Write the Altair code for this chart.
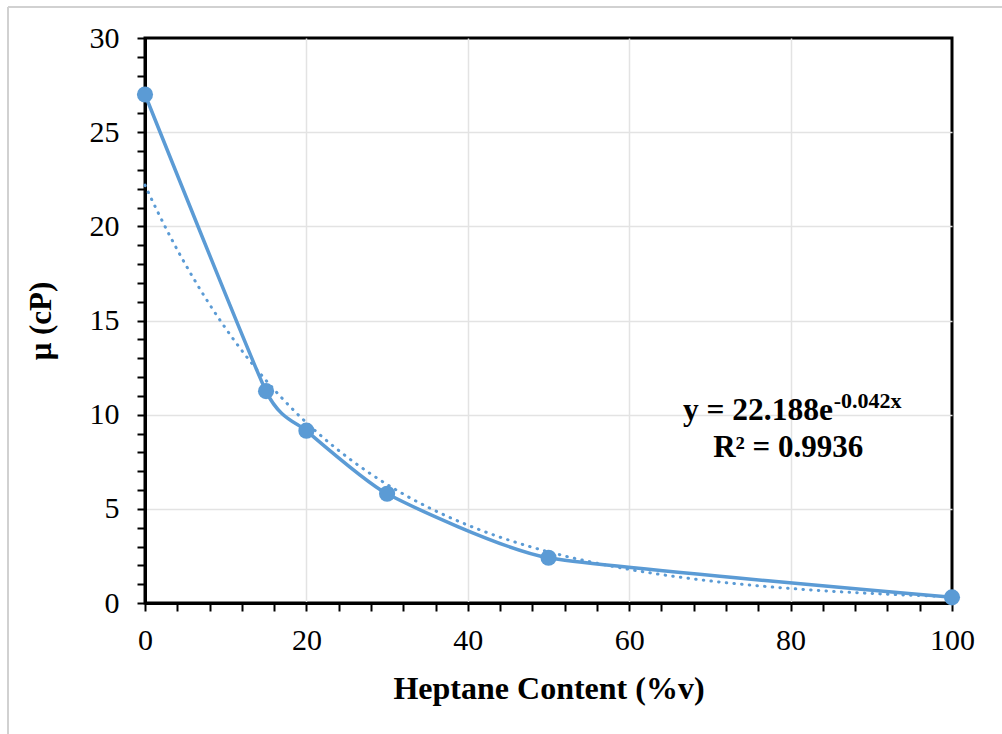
import altair as alt
import pandas as pd

# ---- data ----
heptane = [0, 15, 20, 30, 50, 100]
viscosity = [27.0, 11.25, 9.15, 5.8, 2.4, 0.3]

# exponential trendline as printed on the chart
trend_a = 22.188
trend_b = -0.042
eq_main = "y = 22.188e"
eq_sup = "-0.042x"
r2_text = "R² = 0.9936"

x_tick_values = list(range(0, 101, 4))
y_tick_values = list(range(0, 31, 1))

# ---- styling ----
BLUE = "#5B9BD5"
FONT = "Liberation Serif"
W, H = 807, 565

points_df = pd.DataFrame({"x": heptane, "y": viscosity})

xscale = alt.Scale(domain=[0, 100], nice=False, zero=False)
yscale = alt.Scale(domain=[0, 30], nice=False, zero=False)

x_axis = alt.Axis(
    title="Heptane Content (%v)",
    values=x_tick_values,
    labelExpr="datum.value % 20 === 0 ? datum.label : ''",
    labelOverlap=False, labelFlush=False,
    labelFont=FONT, labelFontSize=30, labelColor="black", labelPadding=14,
    titleFont=FONT, titleFontSize=32, titleFontWeight="bold", titleColor="black",
    titlePadding=18,
    domainColor="black", domainWidth=3,
    tickColor="black", tickWidth=2, tickSize=8,
    gridColor="#e3e3e3", gridWidth=1.5,
    gridOpacity={"condition": {"test": "datum.value % 20 === 0 && datum.value > 0 && datum.value < 100", "value": 1}, "value": 0},
)
y_axis = alt.Axis(
    title="μ (cP)",
    values=y_tick_values,
    labelExpr="datum.value % 5 === 0 ? datum.label : ''",
    labelOverlap=False, labelFlush=False,
    labelFont=FONT, labelFontSize=30, labelColor="black", labelPadding=18,
    titleFont=FONT, titleFontSize=31, titleFontWeight="bold", titleColor="black",
    titlePadding=32,
    domainColor="black", domainWidth=3,
    tickColor="black", tickWidth=2, tickSize=8,
    gridColor="#e3e3e3", gridWidth=1.5,
    gridOpacity={"condition": {"test": "datum.value % 5 === 0 && datum.value > 0 && datum.value < 30", "value": 1}, "value": 0},
)

X = alt.X("x:Q", scale=xscale, axis=x_axis)
Y = alt.Y("y:Q", scale=yscale, axis=y_axis)

base = alt.Chart(points_df)

smooth = base.mark_line(color=BLUE, strokeWidth=3.5, interpolate="cardinal", tension=0.5).encode(x=X, y=Y)

trend = (
    alt.Chart(alt.sequence(0, 100.5, 0.5, as_="x"))
    .transform_calculate(y=f"{trend_a} * exp({trend_b} * datum.x)")
    .mark_line(color=BLUE, strokeWidth=3, strokeDash=[0.5, 7.2], strokeCap="round")
    .encode(x=X, y=Y)
)

dots = base.mark_circle(color=BLUE, size=260, opacity=1).encode(x=X, y=Y)

# equation annotation (placed in data units)
eq_df = pd.DataFrame({"x": [85.25], "y": [9.72], "t": [eq_main]})
sup_df = pd.DataFrame({"x": [85.35], "y": [10.35], "t": [eq_sup]})
r2_df = pd.DataFrame({"x": [79.7], "y": [7.75], "t": [r2_text]})

eq = alt.Chart(eq_df).mark_text(
    font=FONT, fontSize=31.5, fontWeight="bold", align="right", baseline="alphabetic", color="black"
).encode(x=X, y=Y, text="t:N")
sup = alt.Chart(sup_df).mark_text(
    font=FONT, fontSize=22, fontWeight="bold", align="left", baseline="alphabetic", color="black"
).encode(x=X, y=Y, text="t:N")
r2 = alt.Chart(r2_df).mark_text(
    font=FONT, fontSize=31, fontWeight="bold", align="center", baseline="alphabetic", color="black"
).encode(x=X, y=Y, text="t:N")

# chart-area border (light gray frame, as in the Excel export)
border_top = alt.Chart(points_df).mark_rule(color="#d0d0d0", strokeWidth=1.5).encode(
    x=alt.value(-137), x2=alt.value(870), y=alt.value(-31)
)
border_left = alt.Chart(points_df).mark_rule(color="#d0d0d0", strokeWidth=1.5).encode(
    x=alt.value(-137), y=alt.value(-31), y2=alt.value(710)
)

chart = (
    alt.layer(trend, smooth, dots, eq, sup, r2, border_top, border_left)
    .properties(
        width=W, height=H,
        autosize=alt.AutoSizeParams(type="none"),
        padding={"left": 145, "top": 38, "right": 50, "bottom": 131},
        background="white",
    )
    .configure_view(stroke="black", strokeWidth=3)
)

chart.save("out.html", embed_options={"renderer": "svg", "actions": False})
